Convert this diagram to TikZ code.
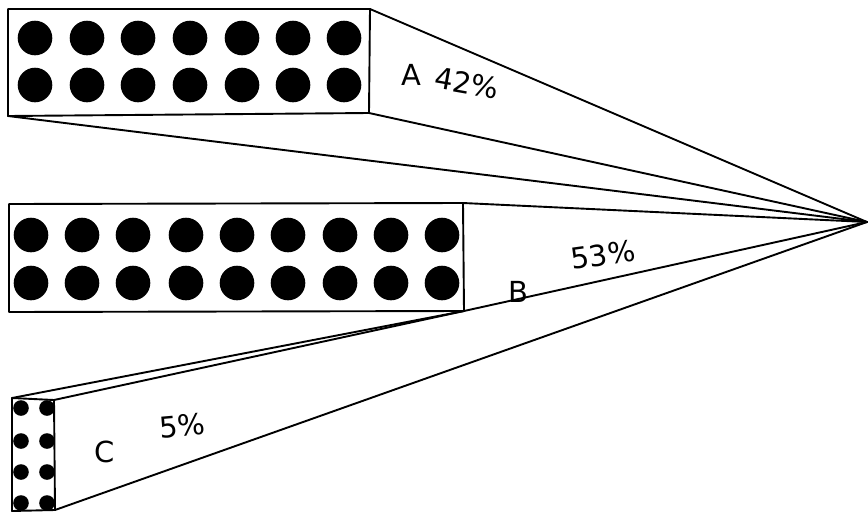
\documentclass[tikz,border=0pt]{standalone}
\usepackage{fontspec}
\setmainfont{DejaVu Sans}
\begin{document}
\begin{tikzpicture}[x=1pt,y=-1pt,
  edge/.style={line width=1.9pt,line join=round,line cap=round},
  dotA/.style={fill=black,draw=none},
  lbl/.style={font=\fontsize{29}{31}\selectfont,inner sep=0pt}]
\useasboundingbox (0,0) rectangle (868,512);
% corners
\coordinate (apex) at (867,222);
\coordinate (Atl) at (8,9);
\coordinate (Atr) at (370,9);
\coordinate (Abr) at (369,113);
\coordinate (Abl) at (8,116);
\coordinate (Btl) at (9,204);
\coordinate (Btr) at (463,203);
\coordinate (Bbr) at (464,311);
\coordinate (Bbl) at (9,312);
\coordinate (Ctl) at (12,398);
\coordinate (Ctr) at (54,400);
\coordinate (Cbr) at (55,510);
\coordinate (Cbl) at (12,511);
% boxes
\draw[edge] (Atl) -- (Atr) -- (Abr) -- (Abl) -- cycle;
\draw[edge] (Btl) -- (Btr) -- (Bbr) -- (Bbl) -- cycle;
\draw[edge] (Ctl) -- (Ctr) -- (Cbr) -- (Cbl) -- cycle;
% perspective lines
\draw[edge] (Atr) -- (apex);
\draw[edge] (Abr) -- (apex);
\draw[edge] (Abl) -- (apex);
\draw[edge] (Btr) -- (apex);
\draw[edge] (Bbr) -- (apex);
\draw[edge] (Ctl) -- (Bbr);
\draw[edge] (Ctr) -- (Bbr);
\draw[edge] (Cbr) -- (apex);
% dots A
\foreach \x in {35,87,138,190,242,293,344}
  \foreach \y in {38,85}
    \fill[dotA] (\x,\y) circle (17.3);
% dots B
\foreach \x in {31,82,133,186,237,288,340,391,442}
  \foreach \y in {235,283}
    \fill[dotA] (\x,\y) circle (17.3);
% dots C
\foreach \x in {21,47}
  \foreach \y in {408,441,472,503}
    \fill[dotA] (\x,\y) circle (7.8);
% labels
\node[lbl] (la) at (411,75) {A};
\node[lbl,rotate=-10] (pa) at (467,83) {42\%};
\node[lbl] (lb) at (518,292) {B};
\node[lbl,rotate=8] (pb) at (603,255) {53\%};
\node[lbl] (lc) at (105,452) {C};
\node[lbl,rotate=5] (pc) at (182,426) {5\%};
\end{tikzpicture}
\end{document}
